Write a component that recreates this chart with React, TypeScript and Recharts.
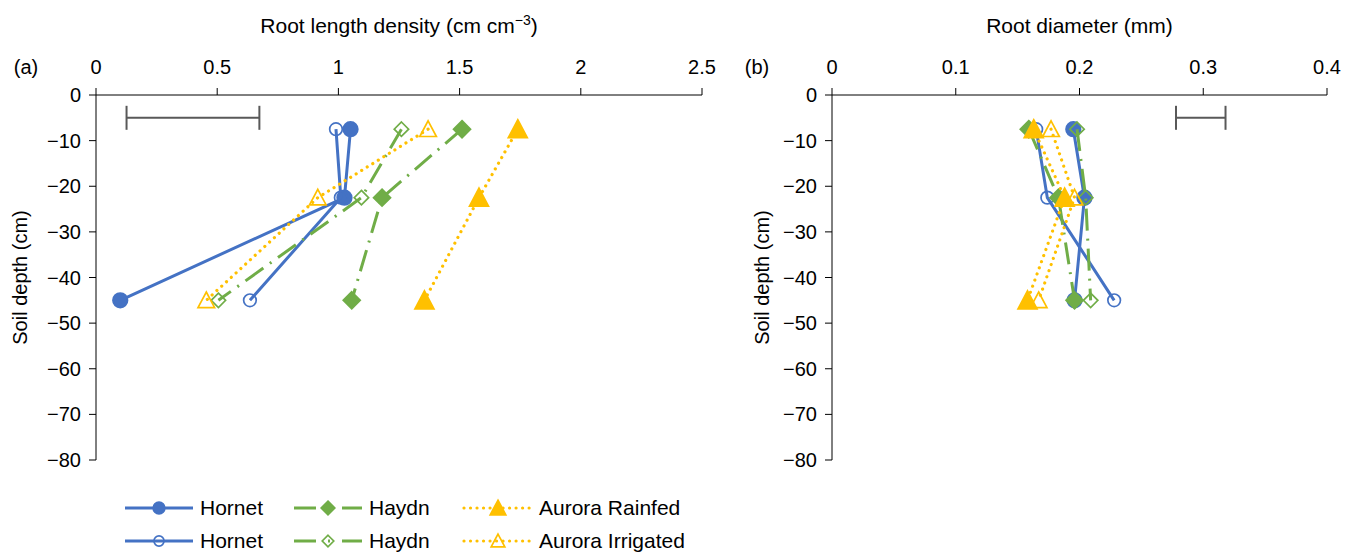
import React from 'react';
import { ScatterChart, Scatter, XAxis, YAxis, ErrorBar } from 'recharts';

// sampling depths (cm) shared by every series
const depths = [-7.5, -22.5, -45];

// (a) root length density, cm cm-3
const rldHornetFilled = [1.05, 1.025, 0.1];
const rldHornetOpen = [0.99, 1.01, 0.635];
const rldHaydnFilled = [1.51, 1.18, 1.055];
const rldHaydnOpen = [1.26, 1.095, 0.505];
const rldAuroraRainfed = [1.74, 1.58, 1.355];
const rldAuroraIrrigated = [1.37, 0.915, 0.455];

// (b) root diameter, mm
const diamHornetFilled = [0.195, 0.204, 0.196];
const diamHornetOpen = [0.165, 0.174, 0.228];
const diamHaydnFilled = [0.159, 0.183, 0.196];
const diamHaydnOpen = [0.198, 0.205, 0.209];
const diamAuroraRainfed = [0.163, 0.188, 0.158];
const diamAuroraIrrigated = [0.177, 0.196, 0.167];

// LSD bars shown at the top of each panel
const rldLsd = [{ x: 0.4, y: -5, err: 0.274 }];
const diamLsd = [{ x: 0.298, y: -5, err: 0.02 }];

const depthTicks = [0, -10, -20, -30, -40, -50, -60, -70, -80];
const rldTicks = [0, 0.5, 1, 1.5, 2, 2.5];
const diamTicks = [0, 0.1, 0.2, 0.3, 0.4];

const BLUE = '#4472C4';
const GREEN = '#70AD47';
const GOLD = '#FFC000';
const FONT = '"Liberation Sans", Arial, Helvetica, sans-serif';

const lineStyles: Record<string, any> = {
  solid: { strokeWidth: 3 },
  dashdot: { strokeWidth: 3, strokeDasharray: '22 8 2 8' },
  dot: { strokeWidth: 3.2, strokeDasharray: '0.01 6.5', strokeLinecap: 'round' },
};

const series = [
  { name: 'Hornet', color: BLUE, kind: 'circle', filled: true, style: 'solid', rld: rldHornetFilled, diam: diamHornetFilled },
  { name: 'Hornet', color: BLUE, kind: 'circle', filled: false, style: 'solid', rld: rldHornetOpen, diam: diamHornetOpen },
  { name: 'Haydn', color: GREEN, kind: 'diamond', filled: true, style: 'dashdot', rld: rldHaydnFilled, diam: diamHaydnFilled },
  { name: 'Haydn', color: GREEN, kind: 'diamond', filled: false, style: 'dashdot', rld: rldHaydnOpen, diam: diamHaydnOpen },
  { name: 'Aurora Rainfed', color: GOLD, kind: 'triangle', filled: true, style: 'dot', rld: rldAuroraRainfed, diam: diamAuroraRainfed },
  { name: 'Aurora Irrigated', color: GOLD, kind: 'triangle', filled: false, style: 'dot', rld: rldAuroraIrrigated, diam: diamAuroraIrrigated },
];

const toPoints = (xs: number[]) => xs.map((x, i) => ({ x, y: depths[i] }));

const Marker = ({ cx, cy, kind, filled, color, small }: any) => {
  const fill = filled ? color : 'none';
  const k = small ? 0.8 : 1;
  if (kind === 'circle') {
    return <circle cx={cx} cy={cy} r={(filled ? 7.3 : 6.3) * k} fill={fill} stroke={color} strokeWidth={1.7} />;
  }
  if (kind === 'diamond') {
    const s = (filled ? 8.5 : 7.2) * k;
    return (
      <polygon
        points={`${cx},${cy - s} ${cx + s},${cy} ${cx},${cy + s} ${cx - s},${cy}`}
        fill={fill}
        stroke={color}
        strokeWidth={1.7}
      />
    );
  }
  const h = (filled ? 8.5 : 7.3) * k;
  return (
    <polygon
      points={`${cx},${cy - h - 1} ${cx + h + 1},${cy + h} ${cx - h - 1},${cy + h}`}
      fill={fill}
      stroke={color}
      strokeWidth={1.7}
    />
  );
};

const minus = (v: number) => String(v).replace('-', '\u2212');

const tickStyle = { fill: '#000', fontSize: 20, fontFamily: FONT };

const TopTitle = ({ viewBox, title, tag, tagX }: any) => {
  const cx = viewBox.x + viewBox.width / 2;
  return (
    <g fontFamily={FONT} fill="#000">
      <text x={cx} y={33} textAnchor="middle" fontSize={21}>
        {title}
      </text>
      <text x={tagX} y={74} textAnchor="middle" fontSize={20}>
        {tag}
      </text>
    </g>
  );
};

const SideTitle = ({ viewBox, x }: any) => {
  const cy = viewBox.y + viewBox.height / 2;
  return (
    <text
      x={x}
      y={cy}
      dy={7}
      textAnchor="middle"
      fontSize={20}
      fontFamily={FONT}
      fill="#000"
      transform={`rotate(-90, ${x}, ${cy})`}
    >
      Soil depth (cm)
    </text>
  );
};

const Panel = ({ left, width, axisWidth, plotWidth, domain, ticks, valueKey, lsd, title, tag, tagX, sideX }: any) => (
  <div style={{ position: 'absolute', left, top: 0 }}>
    <ScatterChart
      width={width}
      height={475}
      margin={{ top: 0, right: width - axisWidth - plotWidth, bottom: 15, left: 0 }}
    >
      <XAxis
        type="number"
        dataKey="x"
        orientation="top"
        domain={domain}
        ticks={ticks}
        height={95}
        interval={0}
        tick={tickStyle}
        tickSize={7}
        tickMargin={14}
        stroke="#000"
        allowDataOverflow
        label={{ content: (p: any) => <TopTitle {...p} title={title} tag={tag} tagX={tagX} /> }}
      />
      <YAxis
        type="number"
        dataKey="y"
        domain={[-80, 0]}
        ticks={depthTicks}
        width={axisWidth}
        interval={0}
        tick={tickStyle}
        tickSize={7}
        tickMargin={8}
        tickFormatter={minus}
        stroke="#000"
        label={{ content: (p: any) => <SideTitle {...p} x={sideX} /> }}
      />
      <Scatter data={lsd} isAnimationActive={false} shape={() => <g />} legendType="none">
        <ErrorBar dataKey="err" direction="x" width={12} stroke="#595959" strokeWidth={2} />
      </Scatter>
      {series.map((s, i) => (
        <Scatter
          key={i}
          name={s.name}
          data={toPoints(s[valueKey as 'rld' | 'diam'])}
          isAnimationActive={false}
          line={{ stroke: s.color, ...lineStyles[s.style] }}
          lineJointType="linear"
          shape={(p: any) => <Marker cx={p.cx} cy={p.cy} kind={s.kind} filled={s.filled} color={s.color} />}
        />
      ))}
    </ScatterChart>
  </div>
);

const legendCols = [124, 293, 463];

const Legend = () => (
  <>
    {series.map((s, i) => {
      const col = Math.floor(i / 2);
      const row = i % 2;
      const st = lineStyles[s.style];
      return (
        <div
          key={i}
          style={{
            position: 'absolute',
            left: legendCols[col],
            top: 496 + row * 33,
            display: 'flex',
            alignItems: 'center',
            height: 24,
            fontFamily: FONT,
            fontSize: 21,
            color: '#000',
            whiteSpace: 'nowrap',
          }}
        >
          <svg width={70} height={24} style={{ overflow: 'visible' }}>
            <line
              x1={1}
              y1={12}
              x2={69}
              y2={12}
              stroke={s.color}
              {...st}
              strokeDasharray={s.style === 'dashdot' ? '22 12 2 12' : st.strokeDasharray}
            />
            <Marker cx={35} cy={12} kind={s.kind} filled={s.filled} color={s.color} small />
          </svg>
          <span style={{ marginLeft: s.style === 'dashdot' ? 6 : 6 }}>{s.name}</span>
        </div>
      );
    })}
  </>
);

export default function App() {
  return (
    <div style={{ position: 'absolute', left: 0, top: 0, width: 1352, height: 552, background: '#fff' }}>
      <Panel
        left={0}
        width={720}
        axisWidth={96}
        plotWidth={606}
        domain={[0, 2.5]}
        ticks={rldTicks}
        valueKey="rld"
        lsd={rldLsd}
        title={
          <>
            Root length density (cm cm
            <tspan fontSize={14} dy={-8}>
              {'\u22123'}
            </tspan>
            <tspan dy={8}>)</tspan>
          </>
        }
        tag="(a)"
        tagX={26}
        sideX={20}
      />
      <Panel
        left={720}
        width={632}
        axisWidth={112}
        plotWidth={495}
        domain={[0, 0.4]}
        ticks={diamTicks}
        valueKey="diam"
        lsd={diamLsd}
        title="Root diameter (mm)"
        tag="(b)"
        tagX={37}
        sideX={42}
      />
      <Legend />
    </div>
  );
}
